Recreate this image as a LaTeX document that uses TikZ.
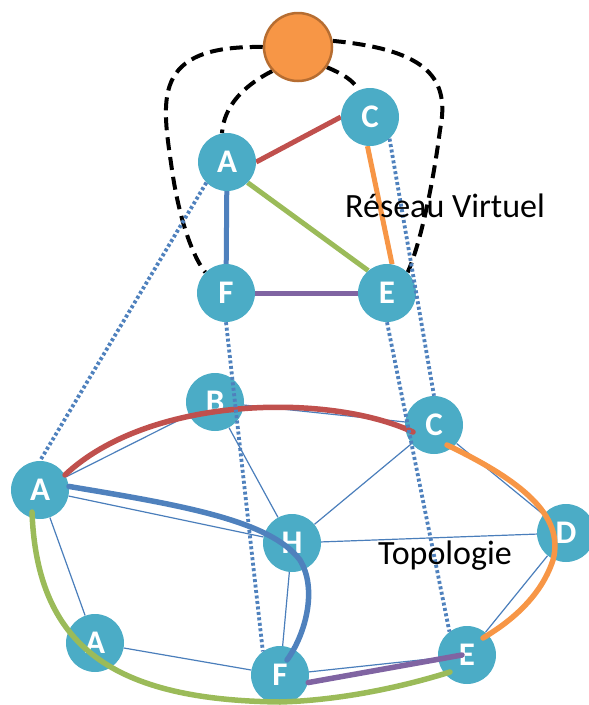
\documentclass[tikz,border=0pt]{standalone}
\usepackage{fontspec}
\setmainfont{Carlito}
\usetikzlibrary{backgrounds}
\definecolor{nodeteal}{HTML}{4BACC6}
\definecolor{mgrfill}{HTML}{F79646}
\definecolor{mgrdraw}{HTML}{B66D31}
\definecolor{cred}{HTML}{C0504D}
\definecolor{cblue}{HTML}{4F81BD}
\definecolor{cgreen}{HTML}{9BBB59}
\definecolor{corange}{HTML}{F79646}
\definecolor{cpurple}{HTML}{8064A2}
\definecolor{thinblue}{HTML}{4A7EBB}
\tikzset{
  netnode/.style={circle, fill=nodeteal, minimum size=58pt, inner sep=0pt,
    text=white, font=\fontsize{33}{33}\selectfont\bfseries},
  mgrnode/.style={circle, fill=mgrfill, draw=mgrdraw, line width=2.5pt,
    minimum size=68pt, inner sep=0pt},
  link/.style={thinblue, line width=1.2pt},
  vlink/.style={line width=5pt},
  route/.style={line width=5.5pt, line cap=round},
  mapline/.style={cblue, line width=3.8pt, dash pattern=on 3pt off 2.5pt},
  ctrl/.style={black, line width=4pt, dash pattern=on 13pt off 7pt},
  caption/.style={font=\fontsize{34}{34}\selectfont, anchor=base west,
    inner sep=0pt, text=black}
}
\begin{document}
\begin{tikzpicture}[x=1pt, y=-1pt]
\clip (0,0) rectangle (589,705);

% controller
\node[mgrnode] (mgr) at (298,47) {};

% virtual network
\node[netnode] (vA) at (227,162) {A};
\node[netnode] (vC) at (370,117) {C};
\node[netnode] (vF) at (226,293) {F};
\node[netnode] (vE) at (387,293) {E};

% physical topology
\node[netnode] (A)  at (40,490)  {A};
\node[netnode] (B)  at (215,402) {B};
\node[netnode] (C)  at (434,425) {C};
\node[netnode] (H)  at (292,543) {H};
\node[netnode] (D)  at (566,533) {D};
\node[netnode] (A2) at (95,643)  {A};
\node[netnode] (F)  at (280,675) {F};
\node[netnode] (E)  at (467,655) {E};

\begin{pgfonlayer}{background}
  % virtual links
  \draw[vlink, cred]    (vA.east) -- (vC.west);
  \draw[vlink, cblue]   (vA) -- (vF);
  \draw[vlink, cgreen]  (vA.-45) -- (vE.130);
  \draw[vlink, corange] (vC.265) -- (vE.80);
  \draw[vlink, cpurple] (vF) -- (vE);

  % control channels from the controller
  \draw[ctrl] (mgr.west) .. controls (150,45) and (162,100) .. (172,170)
              .. controls (180,225) and (195,260) .. (vF.135);
  \draw[ctrl] (mgr.10) .. controls (430,50) and (450,80) .. (440,130)
              .. controls (433,185) and (420,245) .. (vE.45);
  \draw[ctrl] (mgr.223) .. controls (245,85) and (224,105) .. (vA.100);
  \draw[ctrl] (mgr.-35) .. controls (345,75) and (352,80) .. (vC.112);

  % physical links
  \draw[link] (A) -- (B);
  \draw[link] (A) -- (H);
  \draw[link] (A) -- (A2);
  \draw[link] (A2) -- (F);
  \draw[link] (B) -- (H);
  \draw[link] (B) -- (C);
  \draw[link] (C) -- (H);
  \draw[link] (C) -- (D);
  \draw[link] (H) -- (D);
  \draw[link] (D) -- (E);
  \draw[link] (H) -- (F);
  \draw[link] (F) -- (E);
\end{pgfonlayer}

% routes of the virtual links over the topology
\draw[route, cred] (A.31) .. controls (150,395) and (330,393) .. ([shift={(-21,7)}]C.center);
\draw[route, cblue] (A.7) .. controls (180,505) and (270,520) .. (300,560)
      .. controls (318,590) and (305,635) .. ([shift={(7,-15)}]F.center);
\draw[route, cgreen] ([shift={(-8,22)}]A.center) .. controls (37,648) and (115,700) .. (280,702)
      .. controls (350,700) and (415,683) .. ([shift={(-17,17)}]E.center);
\draw[route, corange] ([shift={(13,20)}]C.center) .. controls (520,480) and (565,515) .. (553,560)
      .. controls (540,600) and (505,625) .. ([shift={(16,-17)}]E.center);
\draw[route, cpurple] (F.-15) -- ([xshift=-5pt]E.center);

% mapping of virtual nodes onto physical nodes
\draw[mapline] (vA.225) -- (A.north);
\draw[mapline] (vF.south) -- (F.126);
\draw[mapline] (vE.south) -- (E.127);
\draw[mapline] (vC.-48) -- (C.north);

% captions
\node[caption] (capv) at (345,217) {Réseau Virtuel};
\node[caption] (capt) at (378,564) {Topologie};
\end{tikzpicture}
\end{document}
